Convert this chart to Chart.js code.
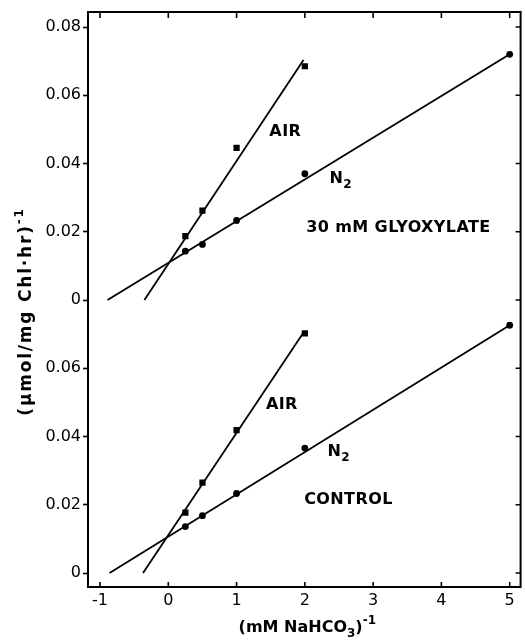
<!DOCTYPE html>
<html>
<head>
<meta charset="utf-8">
<script src="https://cdn.jsdelivr.net/npm/chart.js@4.4.1/dist/chart.umd.min.js"></script>
<style>
  html, body { margin: 0; padding: 0; background: #fff; }
  canvas { display: block; }
</style>
</head>
<body>
<canvas id="lineweaver" width="525" height="641"></canvas>
<script>
// x values: (mM NaHCO3)^-1
const n2X = [0.25, 0.5, 1, 2, 5];
const airX = [0.25, 0.5, 1, 2];

// upper panel: 30 mM glyoxylate
const glyoxN2 = [0.0143, 0.0163, 0.0233, 0.0370, 0.0720];
const glyoxAir = [0.0187, 0.0262, 0.0446, 0.0685];
// lower panel: control
const controlN2 = [0.0136, 0.0168, 0.0233, 0.0366, 0.0726];
const controlAir = [0.0177, 0.0265, 0.0419, 0.0702];

// fitted lines (end points)
const glyoxN2FitX = [-0.89, 5];
const glyoxN2FitY = [0, 0.0720];
const glyoxAirFitX = [-0.35, 1.98];
const glyoxAirFitY = [0, 0.0703];
const controlN2FitX = [-0.86, 5];
const controlN2FitY = [0, 0.0726];
const controlAirFitX = [-0.37, 1.99];
const controlAirFitY = [0, 0.0708];

// the upper panel sits on top of the lower one, its zero at the lower 0.08
const panelOffset = 0.08;

const xTicks = [-1, 0, 1, 2, 3, 4, 5];
const yTicks = [0, 0.02, 0.04, 0.06, 0.08, 0.10, 0.12, 0.14, 0.16];

const FONT = '"DejaVu Sans", sans-serif';

function pts(xs, ys, shift) {
  return xs.map((x, i) => ({ x: x, y: ys[i] + shift }));
}

function pointSet(data, style) {
  return {
    data: data,
    showLine: false,
    pointStyle: style,
    pointRadius: style === 'rect' ? 4.4 : 3.4,
    backgroundColor: '#000',
    borderColor: '#000',
    borderWidth: 0
  };
}

function lineSet(data) {
  return {
    data: data,
    showLine: true,
    pointRadius: 0,
    borderColor: '#000',
    borderWidth: 1.8,
    fill: false
  };
}

// text notes on the plot, placed in data units
const notes = [
  { parts: [['AIR', '']], x: 1.48, y: 0.0492 + panelOffset },
  { parts: [['N', ''], ['2', 'sub']], x: 2.36, y: 0.0355 + panelOffset },
  { parts: [['30 mM GLYOXYLATE', '']], x: 2.02, y: 0.0211 + panelOffset },
  { parts: [['AIR', '']], x: 1.43, y: 0.0492 },
  { parts: [['N', ''], ['2', 'sub']], x: 2.33, y: 0.0355 },
  { parts: [['CONTROL', '']], x: 1.99, y: 0.0214 }
];

// draw text with small sub/superscripts
function drawRich(ctx, parts, x, y, size, align, spacing) {
  const small = Math.round(size * 0.72);
  ctx.letterSpacing = (spacing || 0) + 'px';
  let total = 0;
  parts.forEach(p => {
    ctx.font = 'bold ' + (p[1] ? small : size) + 'px ' + FONT;
    total += ctx.measureText(p[0]).width;
  });
  let cx = align === 'center' ? x - total / 2 : x;
  ctx.textBaseline = 'middle';
  ctx.textAlign = 'left';
  parts.forEach(p => {
    ctx.font = 'bold ' + (p[1] ? small : size) + 'px ' + FONT;
    let dy = 0;
    if (p[1] === 'sub') dy = size * 0.38;
    if (p[1] === 'sup') dy = -size * 0.42;
    ctx.fillText(p[0], cx, y + dy);
    cx += ctx.measureText(p[0]).width;
  });
  ctx.letterSpacing = '0px';
}

const framePlugin = {
  id: 'frame',
  afterDraw(chart) {
    const ctx = chart.ctx;
    const a = chart.chartArea;
    const xs = chart.scales.x, ys = chart.scales.y;
    ctx.save();
    ctx.strokeStyle = '#000';
    ctx.lineWidth = 2;
    ctx.strokeRect(a.left, a.top, a.right - a.left, a.bottom - a.top);
    ctx.lineWidth = 1.6;
    ctx.beginPath();
    xTicks.forEach(v => {
      const px = xs.getPixelForValue(v);
      ctx.moveTo(px, a.bottom); ctx.lineTo(px, a.bottom - 5);
      ctx.moveTo(px, a.top); ctx.lineTo(px, a.top + 6);
    });
    yTicks.forEach(v => {
      const py = ys.getPixelForValue(v);
      ctx.moveTo(a.right, py); ctx.lineTo(a.right - 5, py);
    });
    ctx.stroke();

    ctx.fillStyle = '#000';
    notes.forEach(n => {
      drawRich(ctx, n.parts, xs.getPixelForValue(n.x), ys.getPixelForValue(n.y), 16, 'left', 0.4);
    });

    // axis titles
    drawRich(ctx, [['(mM NaHCO', ''], ['3', 'sub'], [')', ''], ['-1', 'sup']],
      (a.left + a.right) / 2 + 3, 628, 16, 'center', 0);
    ctx.translate(27, (a.top + a.bottom) / 2 + 12);
    ctx.rotate(-Math.PI / 2);
    drawRich(ctx, [['(\u00b5mol/mg Chl\u00b7hr)', ''], ['-1', 'sup']], 0, 0, 17, 'center', 1.8);
    ctx.restore();
  }
};

new Chart(document.getElementById('lineweaver'), {
  type: 'scatter',
  data: {
    datasets: [
      lineSet(pts(glyoxN2FitX, glyoxN2FitY, panelOffset)),
      lineSet(pts(glyoxAirFitX, glyoxAirFitY, panelOffset)),
      lineSet(pts(controlN2FitX, controlN2FitY, 0)),
      lineSet(pts(controlAirFitX, controlAirFitY, 0)),
      pointSet(pts(n2X, glyoxN2, panelOffset), 'circle'),
      pointSet(pts(airX, glyoxAir, panelOffset), 'rect'),
      pointSet(pts(n2X, controlN2, 0), 'circle'),
      pointSet(pts(airX, controlAir, 0), 'rect')
    ]
  },
  options: {
    responsive: false,
    animation: false,
    devicePixelRatio: 1,
    layout: { padding: { top: 12, right: 3, left: 0, bottom: 0 } },
    plugins: { legend: { display: false }, tooltip: { enabled: false } },
    scales: {
      x: {
        type: 'linear',
        min: -1.176,
        max: 5.16,
        afterBuildTicks: s => { s.ticks = xTicks.map(v => ({ value: v })); },
        afterFit: s => { s.height = 54; },
        grid: { display: true, drawOnChartArea: false, drawTicks: false },
        border: { display: false },
        ticks: {
          padding: 4,
          color: '#000',
          font: { family: FONT, size: 16 },
          callback: v => String(v)
        }
      },
      y: {
        type: 'linear',
        min: -0.0041,
        max: 0.1644,
        afterBuildTicks: s => { s.ticks = yTicks.map(v => ({ value: v })); },
        afterFit: s => { s.width = 88; },
        grid: { display: true, drawOnChartArea: false, drawTicks: true, tickLength: 5, tickWidth: 1.6, color: '#000' },
        border: { display: false },
        ticks: {
          padding: 2,
          color: '#000',
          font: { family: FONT, size: 16 },
          callback: v => {
            const t = v >= panelOffset - 1e-6 ? v - panelOffset : v;
            return Math.abs(t) < 1e-6 ? '0' : t.toFixed(2);
          }
        }
      }
    }
  },
  plugins: [framePlugin]
});
</script>
</body>
</html>
